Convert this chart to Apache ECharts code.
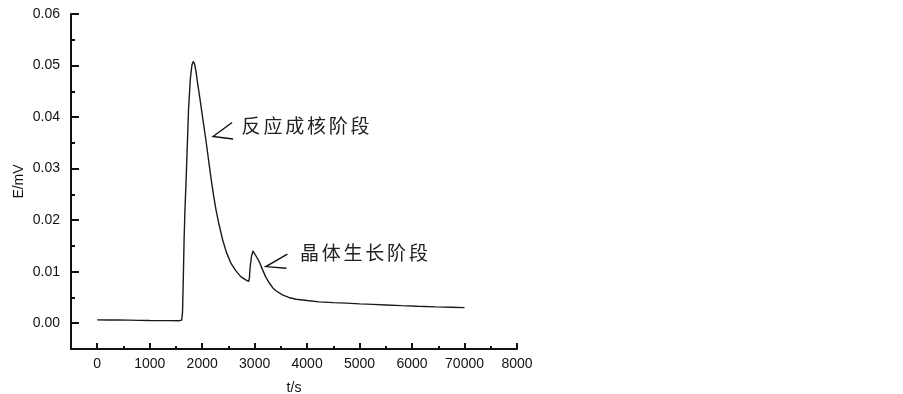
<!DOCTYPE html>
<html>
<head>
<meta charset="utf-8">
<title>E/mV - t/s</title>
<script src="https://cdn.jsdelivr.net/npm/echarts@6/dist/echarts.min.js"></script>
<style>
  html, body { margin: 0; padding: 0; background: #fff; }
  #main { width: 903px; height: 394px; }
</style>
</head>
<body>
<div id="main"></div>
<script>
// 时间 (s)
let timeValues = [
  0, 200, 400, 600, 800, 1000, 1200, 1400, 1550, 1610,
  1625, 1640, 1655, 1670, 1690, 1710, 1740, 1775, 1805, 1830,
  1855, 1880, 1910, 1960, 2010, 2070, 2120, 2170, 2220, 2260,
  2320, 2390, 2460, 2550, 2640, 2740, 2830, 2885, 2900, 2915,
  2940, 2970, 3000, 3040, 3090, 3150, 3210, 3280, 3350, 3420,
  3530, 3650, 3790, 4000, 4230, 4500, 4750, 5000, 5250, 5500,
  5800, 6100, 6450, 6750, 7000
]
// 电位 (mV)
let potentialValues = [
  0.00065, 0.00063, 0.00062, 0.0006, 0.00055, 0.00052, 0.0005, 0.0005, 0.00048, 0.0006,
  0.002, 0.0084, 0.016, 0.0214, 0.0268, 0.0325, 0.0415, 0.0475, 0.0501, 0.0508,
  0.0503, 0.049, 0.0468, 0.0434, 0.0398, 0.0356, 0.0318, 0.028, 0.0246, 0.0222,
  0.0192, 0.0162, 0.0138, 0.0116, 0.0102, 0.009, 0.0084, 0.0081, 0.0088, 0.011,
  0.013, 0.014, 0.0137, 0.0128, 0.0119, 0.0104, 0.009, 0.0078, 0.0068, 0.0062,
  0.0055, 0.005, 0.00466, 0.0044, 0.00414, 0.004, 0.0039, 0.00375, 0.00365, 0.00355,
  0.00342, 0.0033, 0.00317, 0.0031, 0.00303
]

// 刻度
let xMajorTicks = [0, 1000, 2000, 3000, 4000, 5000, 6000, 7000, 8000]
let xTickLabels = ['0', '1000', '2000', '3000', '4000', '5000', '6000', '70000', '8000']
let xMinorTicks = [500, 1500, 2500, 3500, 4500, 5500, 6500, 7500]
let yMajorTicks = [0, 0.01, 0.02, 0.03, 0.04, 0.05, 0.06]
let yTickLabels = ['0.00', '0.01', '0.02', '0.03', '0.04', '0.05', '0.06']
let yMinorTicks = [0.005, 0.015, 0.025, 0.035, 0.045, 0.055]

// 标注
let stageNames = ['反应成核阶段', '晶体生长阶段']
let stageAnchors = [[2208, 0.03623], [3214, 0.01099]]

let axisColor = '#111'
let font = 'Liberation Sans, Arial, sans-serif'

let myChart = echarts.init(document.getElementById('main'))

let baseX = {
  type: 'value',
  position: 'bottom',
  min: -500,
  max: 8000,
  splitLine: { show: false }
}
let baseY = {
  type: 'value',
  position: 'left',
  min: -0.005,
  max: 0.06,
  splitLine: { show: false }
}

let option = {
  animation: false,
  backgroundColor: '#fff',
  grid: {
    left: 71,
    top: 14,
    right: 386,
    bottom: 45,
    containLabel: false,
    outerBoundsMode: 'none'
  },
  xAxis: [
    Object.assign({}, baseX, {
      name: 't/s',
      nameLocation: 'middle',
      nameGap: 32,
      nameTextStyle: { color: axisColor, fontSize: 14, fontFamily: font },
      axisLine: { onZero: false, lineStyle: { color: axisColor, width: 2 } },
      axisTick: {
        inside: true,
        length: 6,
        customValues: xMajorTicks,
        lineStyle: { color: axisColor, width: 2 }
      },
      axisLabel: {
        customValues: xMajorTicks,
        margin: 8,
        color: axisColor,
        fontSize: 14,
        fontFamily: font,
        formatter: v => xTickLabels[xMajorTicks.indexOf(v)]
      }
    }),
    Object.assign({}, baseX, {
      axisLine: { show: false, onZero: false },
      axisTick: {
        inside: true,
        length: 3,
        customValues: xMinorTicks,
        lineStyle: { color: axisColor, width: 2 }
      },
      axisLabel: { show: false }
    })
  ],
  yAxis: [
    Object.assign({}, baseY, {
      name: 'E/mV',
      nameLocation: 'middle',
      nameGap: 45,
      nameTextStyle: { color: axisColor, fontSize: 14, fontFamily: font },
      axisLine: { show: true, onZero: false, lineStyle: { color: axisColor, width: 2 } },
      axisTick: {
        show: true,
        inside: true,
        length: 8,
        customValues: yMajorTicks,
        lineStyle: { color: axisColor, width: 2 }
      },
      axisLabel: {
        customValues: yMajorTicks,
        margin: 11,
        color: axisColor,
        fontSize: 14,
        fontFamily: font,
        formatter: v => {
          let i = yMajorTicks.findIndex(t => Math.abs(t - v) < 1e-9)
          return i < 0 ? '' : yTickLabels[i]
        }
      }
    }),
    Object.assign({}, baseY, {
      axisLine: { show: false, onZero: false },
      axisTick: {
        show: true,
        inside: true,
        length: 4,
        customValues: yMinorTicks,
        lineStyle: { color: axisColor, width: 2 }
      },
      axisLabel: { show: false }
    })
  ],
  series: [
    {
      type: 'line',
      xAxisIndex: 0,
      yAxisIndex: 0,
      data: timeValues.map((t, i) => [t, potentialValues[i]]),
      showSymbol: false,
      smooth: false,
      lineStyle: { color: '#1a1a1a', width: 1.4 }
    }
  ]
}
myChart.setOption(option)

// 箭头和文字
let graphics = []
stageAnchors.forEach((anchor, k) => {
  let tip = myChart.convertToPixel({ xAxisIndex: 0, yAxisIndex: 0 }, anchor)
  let up = k === 0 ? [19, -14] : [21.5, -12.5]
  let low = k === 0 ? [20, 2.5] : [20.5, 1.6]
  graphics.push({
    type: 'polyline',
    shape: {
      points: [
        [tip[0] + up[0], tip[1] + up[1]],
        [tip[0], tip[1]],
        [tip[0] + low[0], tip[1] + low[1]]
      ]
    },
    style: { stroke: '#111', lineWidth: 1.4, fill: null }
  })
  let textLeft = tip[0] + (k === 0 ? 28 : 33.5)
  let textMid = tip[1] + (k === 0 ? -10.5 : -14)
  Array.from(stageNames[k]).forEach((ch, j) => {
    graphics.push({
      type: 'text',
      x: textLeft + j * 21.8 + 10,
      y: textMid,
      style: {
        text: ch,
        font: '19px "Noto Sans CJK SC"',
        fill: '#222',
        align: 'center',
        verticalAlign: 'middle'
      }
    })
  })
})
myChart.setOption({ graphic: graphics })
</script>
</body>
</html>
